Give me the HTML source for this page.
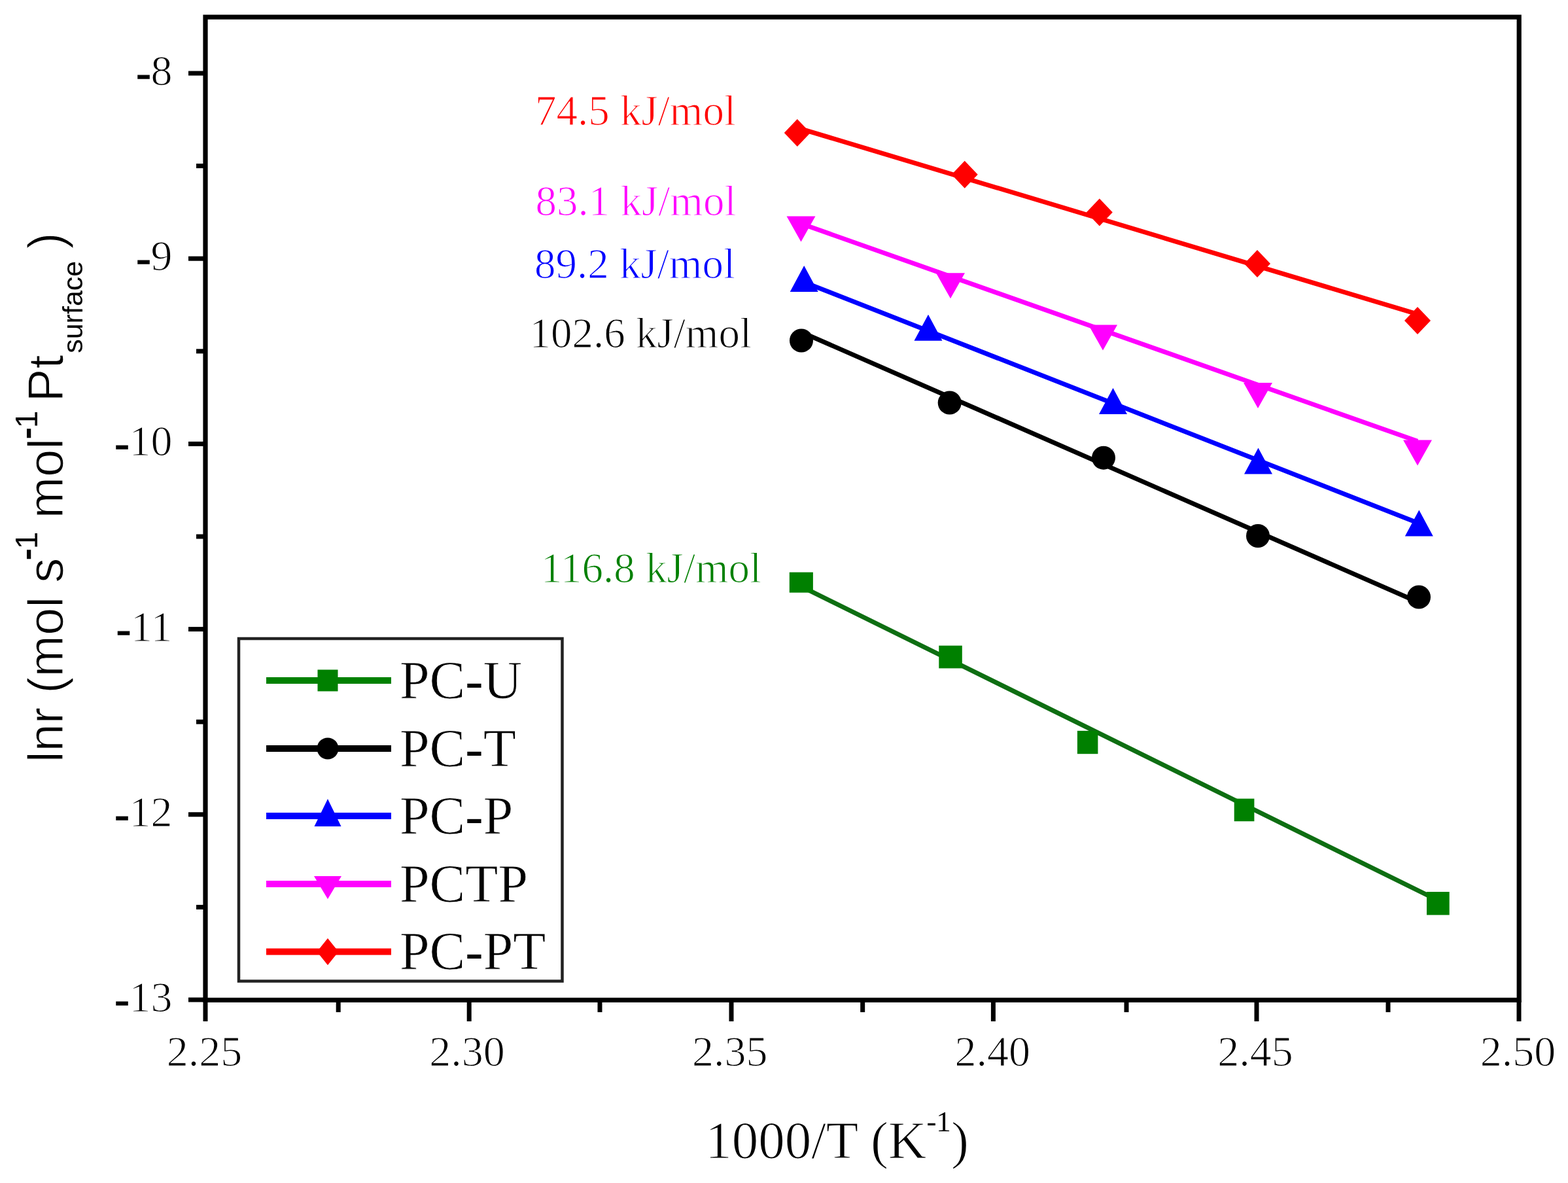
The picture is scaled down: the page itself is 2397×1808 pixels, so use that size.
<!DOCTYPE html>
<html><head><meta charset="utf-8"><title>Arrhenius plot</title>
<style>
html,body{margin:0;padding:0;background:#fff;}
body{width:2397px;height:1808px;overflow:hidden;}
svg{display:block;}
text{stroke:#fff;stroke-width:1.2px;}
</style></head>
<body>
<svg width="2397" height="1808" viewBox="0 0 2397 1808">
<rect width="2397" height="1808" fill="#fff"/>
<rect x="314" y="26.1" width="2008.1999999999998" height="1502.3000000000002" fill="none" stroke="#000" stroke-width="7.2"/>
<line x1="288" y1="112.0" x2="314" y2="112.0" stroke="#000" stroke-width="7"/>
<line x1="288" y1="395.2" x2="314" y2="395.2" stroke="#000" stroke-width="7"/>
<line x1="288" y1="678.4" x2="314" y2="678.4" stroke="#000" stroke-width="7"/>
<line x1="288" y1="961.6" x2="314" y2="961.6" stroke="#000" stroke-width="7"/>
<line x1="288" y1="1244.8" x2="314" y2="1244.8" stroke="#000" stroke-width="7"/>
<line x1="288" y1="1528.0" x2="314" y2="1528.0" stroke="#000" stroke-width="7"/>
<line x1="300" y1="253.6" x2="314" y2="253.6" stroke="#000" stroke-width="7"/>
<line x1="300" y1="536.8" x2="314" y2="536.8" stroke="#000" stroke-width="7"/>
<line x1="300" y1="820.0" x2="314" y2="820.0" stroke="#000" stroke-width="7"/>
<line x1="300" y1="1103.2" x2="314" y2="1103.2" stroke="#000" stroke-width="7"/>
<line x1="300" y1="1386.4" x2="314" y2="1386.4" stroke="#000" stroke-width="7"/>
<line x1="314.0" y1="1528.4" x2="314.0" y2="1560.9" stroke="#000" stroke-width="7"/>
<line x1="717.2" y1="1528.4" x2="717.2" y2="1560.9" stroke="#000" stroke-width="7"/>
<line x1="1118.0" y1="1528.4" x2="1118.0" y2="1560.9" stroke="#000" stroke-width="7"/>
<line x1="1518.4" y1="1528.4" x2="1518.4" y2="1560.9" stroke="#000" stroke-width="7"/>
<line x1="1921.0" y1="1528.4" x2="1921.0" y2="1560.9" stroke="#000" stroke-width="7"/>
<line x1="2322.0" y1="1528.4" x2="2322.0" y2="1560.9" stroke="#000" stroke-width="7"/>
<line x1="517.2" y1="1528.4" x2="517.2" y2="1546.9" stroke="#000" stroke-width="7"/>
<line x1="917.0" y1="1528.4" x2="917.0" y2="1546.9" stroke="#000" stroke-width="7"/>
<line x1="1318.7" y1="1528.4" x2="1318.7" y2="1546.9" stroke="#000" stroke-width="7"/>
<line x1="1722.0" y1="1528.4" x2="1722.0" y2="1546.9" stroke="#000" stroke-width="7"/>
<line x1="2122.0" y1="1528.4" x2="2122.0" y2="1546.9" stroke="#000" stroke-width="7"/>
<g style="font-family:'Liberation Serif','Times New Roman',serif;font-size:66px" fill="#000" text-anchor="end">
<text x="263.5" y="130.0"><tspan dy="3" style="stroke:#000;stroke-width:1.4px">-</tspan><tspan dy="-3">8</tspan></text>
<text x="263.5" y="413.2"><tspan dy="3" style="stroke:#000;stroke-width:1.4px">-</tspan><tspan dy="-3">9</tspan></text>
<text x="263.5" y="696.4"><tspan dy="3" style="stroke:#000;stroke-width:1.4px">-</tspan><tspan dy="-3">10</tspan></text>
<text x="263.5" y="979.6"><tspan dy="3" style="stroke:#000;stroke-width:1.4px">-</tspan><tspan dy="-3">11</tspan></text>
<text x="263.5" y="1262.8"><tspan dy="3" style="stroke:#000;stroke-width:1.4px">-</tspan><tspan dy="-3">12</tspan></text>
<text x="263.5" y="1546.0"><tspan dy="3" style="stroke:#000;stroke-width:1.4px">-</tspan><tspan dy="-3">13</tspan></text>
</g>
<g style="font-family:'Liberation Serif','Times New Roman',serif;font-size:66px" fill="#000" text-anchor="middle">
<text x="312.5" y="1629">2.25</text>
<text x="714.1" y="1629">2.30</text>
<text x="1115.7" y="1629">2.35</text>
<text x="1517.3" y="1629">2.40</text>
<text x="1918.9" y="1629">2.45</text>
<text x="2320.5" y="1629">2.50</text>
</g>
<text x="1279.5" y="1770" style="font-family:'Liberation Serif','Times New Roman',serif;font-size:81px" fill="#000" text-anchor="middle">1000/T (K<tspan dy="-41" style="font-size:45px;stroke:none">-1</tspan><tspan dy="41">)</tspan></text>
<g transform="translate(96,1160.3) rotate(-90)" fill="#000">
<text x="-5" y="0" style="font-family:'Liberation Sans',Arial,sans-serif;font-size:76px">lnr (mol s</text>
<text x="305" y="-39" style="font-family:'Liberation Sans',Arial,sans-serif;font-size:48px;stroke:none"><tspan style="stroke:#000;stroke-width:2.5px">-</tspan>1</text>
<text x="368" y="0" style="font-family:'Liberation Sans',Arial,sans-serif;font-size:76px">mol</text>
<text x="490" y="-39" style="font-family:'Liberation Sans',Arial,sans-serif;font-size:48px;stroke:none"><tspan style="stroke:#000;stroke-width:2.5px">-</tspan>1</text>
<text x="546" y="0" style="font-family:'Liberation Sans',Arial,sans-serif;font-size:76px">Pt</text>
<text x="620.5" y="29.7" style="font-family:'Liberation Sans',Arial,sans-serif;font-size:43px;stroke:none">surface</text>
<text x="779.5" y="0" style="font-family:'Liberation Sans',Arial,sans-serif;font-size:76px">)</text>
</g>
<line x1="1219.0" y1="195.3" x2="2167.0" y2="480.2" stroke="#ff0000" stroke-width="7"/>
<line x1="1224.5" y1="341.8" x2="2167.0" y2="674.3" stroke="#ff00ff" stroke-width="7"/>
<line x1="1229.0" y1="431.2" x2="2169.0" y2="799.7" stroke="#0000ff" stroke-width="7"/>
<line x1="1225.0" y1="507.6" x2="2169.0" y2="920.7" stroke="#000000" stroke-width="7"/>
<line x1="1225.0" y1="896.4" x2="2198.0" y2="1375.9" stroke="#0e6e12" stroke-width="7"/>
<polygon points="1218.8,182.0 1238.8,203 1218.8,224.0 1198.8,203" fill="#ff0000"/>
<polygon points="1474.7,245.8 1494.7,266.8 1474.7,287.8 1454.7,266.8" fill="#ff0000"/>
<polygon points="1680.8,303.5 1700.8,324.5 1680.8,345.5 1660.8,324.5" fill="#ff0000"/>
<polygon points="1922,382.0 1942.0,403 1922,424.0 1902.0,403" fill="#ff0000"/>
<polygon points="2167,469.0 2187.0,490 2167,511.0 2147.0,490" fill="#ff0000"/>
<polygon points="1202.5,330.4 1246.5,330.4 1224.5,369.4" fill="#ff00ff"/>
<polygon points="1431.0,417.2 1475.0,417.2 1453,456.2" fill="#ff00ff"/>
<polygon points="1664.0,496.6 1708.0,496.6 1686,535.6" fill="#ff00ff"/>
<polygon points="1901.0,584.9 1945.0,584.9 1923,623.9" fill="#ff00ff"/>
<polygon points="2145.0,672.5 2189.0,672.5 2167,711.5" fill="#ff00ff"/>
<polygon points="1229.2,406 1250.7,446 1207.7,446" fill="#0000ff"/>
<polygon points="1419,480.8 1440.5,520.8 1397.5,520.8" fill="#0000ff"/>
<polygon points="1701.5,592.9 1723.0,632.9 1680.0,632.9" fill="#0000ff"/>
<polygon points="1923.5,684.6 1945.0,724.6 1902.0,724.6" fill="#0000ff"/>
<polygon points="2169.3,779.4 2190.8,819.4 2147.8,819.4" fill="#0000ff"/>
<circle cx="1225" cy="520.5" r="18" fill="#000000"/>
<circle cx="1451.7" cy="615.5" r="18" fill="#000000"/>
<circle cx="1687" cy="699.7" r="18" fill="#000000"/>
<circle cx="1923" cy="819" r="18" fill="#000000"/>
<circle cx="2169" cy="912.5" r="18" fill="#000000"/>
<rect x="1206.8" y="874.6" width="36.100000000000136" height="31.100000000000023" fill="#008000"/>
<rect x="1435.3" y="986.7" width="35.5" height="34.69999999999993" fill="#008000"/>
<rect x="1646.9" y="1116.9" width="31.5" height="35.299999999999955" fill="#008000"/>
<rect x="1886.7" y="1220.6" width="30.700000000000045" height="34.600000000000136" fill="#008000"/>
<rect x="2181" y="1363" width="34.69999999999982" height="35.40000000000009" fill="#008000"/>
<g style="font-family:'Liberation Serif','Times New Roman',serif;font-size:65px">
<text x="818" y="191.4" fill="#ff0000">74.5 kJ/mol</text>
<text x="818.5" y="329" fill="#ff00ff">83.1 kJ/mol</text>
<text x="817" y="425" fill="#0000ff">89.2 kJ/mol</text>
<text x="809.5" y="530.9" fill="#000000">102.6 kJ/mol</text>
<text x="827" y="890.2" fill="#008000">116.8 kJ/mol</text>
</g>
<rect x="365" y="976" width="494.5" height="523.5" fill="#fff" stroke="#222" stroke-width="4.5"/>
<line x1="407" y1="1040" x2="598" y2="1040" stroke="#008000" stroke-width="10"/>
<rect x="485.5" y="1023.5" width="31.0" height="33.0" fill="#008000"/>
<text x="611" y="1066.5" style="font-family:'Liberation Serif','Times New Roman',serif;font-size:82px;stroke-width:0.8px" fill="#000">PC<tspan style="stroke:none">-</tspan>U</text>
<line x1="407" y1="1144" x2="598" y2="1144" stroke="#000000" stroke-width="10"/>
<circle cx="501" cy="1144" r="16.5" fill="#000000"/>
<text x="611" y="1170.5" style="font-family:'Liberation Serif','Times New Roman',serif;font-size:82px;stroke-width:0.8px" fill="#000">PC<tspan style="stroke:none">-</tspan>T</text>
<line x1="407" y1="1247" x2="598" y2="1247" stroke="#0000ff" stroke-width="10"/>
<polygon points="501,1221 521.5,1263 480.5,1263" fill="#0000ff"/>
<text x="611" y="1273.5" style="font-family:'Liberation Serif','Times New Roman',serif;font-size:82px;stroke-width:0.8px" fill="#000">PC<tspan style="stroke:none">-</tspan>P</text>
<line x1="407" y1="1351" x2="598" y2="1351" stroke="#ff00ff" stroke-width="10"/>
<polygon points="480.0,1339 522.0,1339 501,1374" fill="#ff00ff"/>
<text x="611" y="1377.5" style="font-family:'Liberation Serif','Times New Roman',serif;font-size:82px;stroke-width:0.8px" fill="#000">PCTP</text>
<line x1="407" y1="1454.5" x2="598" y2="1454.5" stroke="#ff0000" stroke-width="10"/>
<polygon points="501,1434.0 517.5,1454.5 501,1475.0 484.5,1454.5" fill="#ff0000"/>
<text x="611" y="1481.0" style="font-family:'Liberation Serif','Times New Roman',serif;font-size:82px;stroke-width:0.8px" fill="#000">PC<tspan style="stroke:none">-</tspan>PT</text>
</svg>
</body></html>
